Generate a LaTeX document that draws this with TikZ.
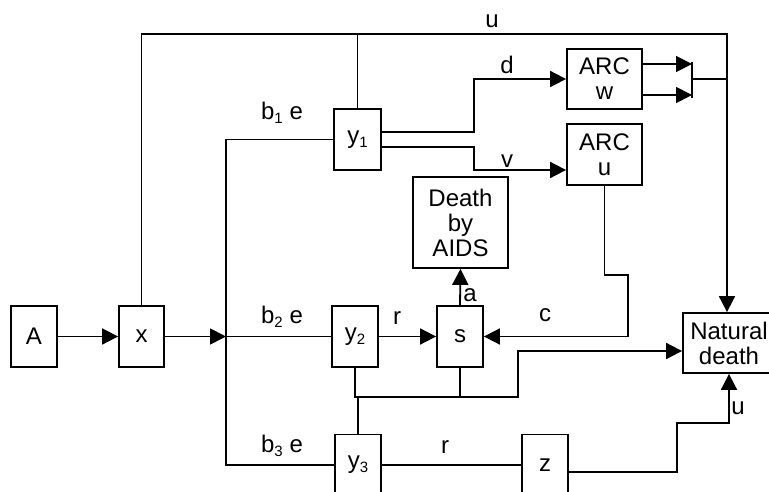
\documentclass[tikz,border=0pt]{standalone}
\usepackage{fontspec}
\setmainfont{Liberation Sans}
\usetikzlibrary{arrows.meta}
\newcommand{\idx}[1]{\raisebox{-0.3ex}{\fontsize{15}{15}\selectfont #1}}

\begin{document}
\begin{tikzpicture}[x=1pt, y=-1pt, line width=1.8pt,
    blk/.style={draw, rectangle, inner sep=0pt, align=center, font=\fontsize{24}{25}\selectfont},
    arr/.style={-{Triangle[length=16pt, width=16pt]}},
    lbl/.style={inner sep=0pt, font=\fontsize{24}{25}\selectfont}]
    \useasboundingbox (0,0) rectangle (769,492);
    \clip (0,0) rectangle (769,492);

    \node[blk, minimum width=46pt, minimum height=61pt] (A) at (34,336.5) {A};
    \node[blk, minimum width=45pt, minimum height=61pt] (x) at (141.5,336.5) {x};
    \node[blk, minimum width=47pt, minimum height=61pt] (y1) at (357.5,139.5) {y\idx{1}};
    \node[blk, minimum width=46pt, minimum height=61pt] (y2) at (355,336.5) {y\idx{2}};
    \node[blk, minimum width=46pt, minimum height=61pt] (y3) at (358,465) {y\idx{3}};
    \node[blk, minimum width=46pt, minimum height=61pt] (s) at (460,336.5) {s};
    \node[blk, minimum width=46pt, minimum height=61pt] (z) at (545,465) {z};
    \node[blk, minimum width=75pt, minimum height=60pt] (arcw) at (604.5,79) {ARC\\w};
    \node[blk, minimum width=75pt, minimum height=61pt] (arcu) at (604.5,154.5) {ARC\\u};
    \node[blk, minimum width=95pt, minimum height=91pt] (aids) at (460.5,222.5) {Death\\by\\AIDS};
    \node[blk, minimum width=92pt, minimum height=60pt] (nat) at (729,343) {Natural\\death};

    \coordinate (split) at (226,336.5);
    \coordinate (tr) at (727,34);
    \coordinate (sumtop) at (692,62);
    \coordinate (sumbot) at (692,98);
    \coordinate (ck) at (628,275);
    \coordinate (bus) at (518,397);
    \coordinate (zk) at (677,423);

    % input and branches
    \draw[arr] (A) -- (x);
    \draw[arr] (x) -- (split);
    \draw (y1.west) -| (split) |- (y3.west);
    \draw (split) -- (y2.west);
    \node[lbl] (lb1) at (282,113) {b\idx{1} e};
    \node[lbl] (lb2) at (282,317) {b\idx{2} e};
    \node[lbl] (lb3) at (282,446) {b\idx{3} e};

    % top line u
    \draw[arr] (x.north) |- (tr) -- (tr |- nat.north);
    \draw (y1.north) -- (y1.north |- tr);
    \node[lbl] (lu) at (492,21) {u};

    % y1 outputs
    \draw[arr] ([yshift=7.5pt]y1.east) -- ++(92,0) |- (arcw.west);
    \draw[arr] ([yshift=-7.5pt]y1.east) -- ++(92,0) |- ([yshift=-15.5pt]arcu.west);
    \node[lbl] (ld) at (507,65) {d};
    \node[lbl] (lv) at (507,161) {v};

    % ARC w outputs
    \draw[arr] ([yshift=15pt]arcw.east) -- ([yshift=15pt]arcw.east -| sumtop);
    \draw[arr] ([yshift=-16pt]arcw.east) -- ([yshift=-16pt]arcw.east -| sumtop);
    \draw (sumtop) -- (sumbot);
    \draw (arcw.east -| sumtop) -- (arcw.east -| tr);

    % ARC u to s
    \draw[arr] (arcu.south) |- (ck) |- (s.east);
    \node[lbl] (lc) at (545,315) {c};

    % y2, s
    \draw[arr] (y2.east) -- (s.west);
    \node[lbl] (lr1) at (397,318) {r};
    \draw[arr] (s.north) -- (aids.south);
    \node[lbl] (la) at (470,295) {a};
    \draw[arr] (y2.south) |- (bus) |- ([yshift=-8pt]nat.west);
    \draw (s.south) -- (s.south |- bus);
    \draw (y3.north) -- (y3.north |- bus);

    % y3, z
    \draw (y3.east) -- (z.west);
    \node[lbl] (lr2) at (445,447) {r};
    \draw[arr] ([yshift=-7pt]z.east) -| (zk) -| (nat.south);
    \node[lbl] (lu2) at (738,408) {u};
\end{tikzpicture}
\end{document}
